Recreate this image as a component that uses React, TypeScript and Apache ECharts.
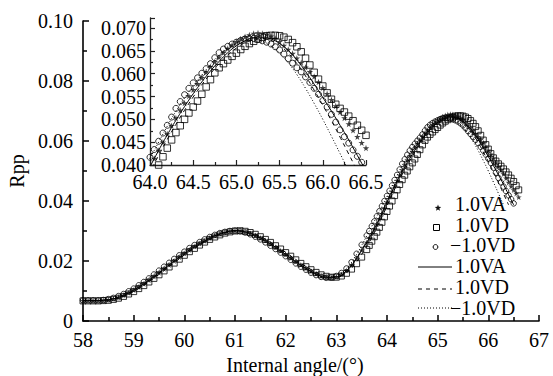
import React, { useEffect, useRef } from "react";
import * as echarts from "echarts";

// ---------- data ----------
const lowAngles = [
  58.0, 58.1, 58.2, 58.3, 58.4, 58.5, 58.6, 58.7, 58.8, 58.9,
  59.0, 59.1, 59.2, 59.3, 59.4, 59.5, 59.6, 59.7, 59.8, 59.9,
  60.0, 60.1, 60.2, 60.3, 60.4, 60.5, 60.6, 60.7, 60.8, 60.9,
  61.0, 61.1, 61.2, 61.3, 61.4, 61.5, 61.6, 61.7, 61.8, 61.9,
  62.0, 62.1, 62.2, 62.3, 62.4, 62.5, 62.6, 62.7, 62.8, 62.9,
  63.0, 63.1, 63.2, 63.3, 63.4, 63.5,
];
const highAngles = [
  63.6, 63.65, 63.7, 63.75, 63.8, 63.85, 63.9, 63.95, 64.0, 64.05,
  64.1, 64.15, 64.2, 64.25, 64.3, 64.35, 64.4, 64.45, 64.5, 64.55,
  64.6, 64.65, 64.7, 64.75, 64.8, 64.85, 64.9, 64.95, 65.0, 65.05,
  65.1, 65.15, 65.2, 65.25, 65.3, 65.35, 65.4, 65.45, 65.5, 65.55,
  65.6, 65.65, 65.7, 65.75, 65.8, 65.85, 65.9, 65.95, 66.0, 66.05,
  66.1, 66.15, 66.2, 66.25, 66.3, 66.35, 66.4, 66.45, 66.5, 66.55,
  66.6,
];
const scatterAngles = [...lowAngles, ...highAngles];

const lineAngles = [
  58.0, 58.2, 58.4, 58.6, 58.8, 59.0, 59.2, 59.4, 59.6, 59.8,
  60.0, 60.2, 60.4, 60.6, 60.8, 61.0, 61.2, 61.4, 61.6, 61.8,
  62.0, 62.2, 62.4, 62.6, 62.8, 63.0, 63.2, 63.4,
  63.5, 63.6, 63.7, 63.8, 63.9, 64.0, 64.1, 64.2, 64.3, 64.4,
  64.5, 64.6, 64.7, 64.8, 64.9, 65.0, 65.1, 65.2, 65.3, 65.4,
  65.5, 65.6, 65.7, 65.8, 65.9, 66.0, 66.1, 66.2, 66.3, 66.4,
  66.5, 66.6,
];

// measured 1.0VA (stars)
const rppVA = [
  0.0068, 0.0068, 0.0068, 0.0068, 0.0069, 0.0071, 0.0074, 0.0079, 0.0086, 0.0094,
  0.0103, 0.0113, 0.0124, 0.0136, 0.0148, 0.0161, 0.0174, 0.0187, 0.0200, 0.0213,
  0.0225, 0.0237, 0.0248, 0.0258, 0.0267, 0.0276, 0.0284, 0.0290, 0.0295, 0.0299,
  0.0301, 0.0300, 0.0297, 0.0292, 0.0285, 0.0277, 0.0268, 0.0257, 0.0246, 0.0234,
  0.0222, 0.0210, 0.0198, 0.0187, 0.0176, 0.0166, 0.0157, 0.0150, 0.0146, 0.0144,
  0.0147, 0.0155, 0.0168, 0.0186, 0.0209, 0.0236,
  0.0262, 0.0276, 0.0291, 0.0307, 0.0323, 0.0340, 0.0358, 0.0377, 0.0396, 0.0414,
  0.0432, 0.0450, 0.0468, 0.0486, 0.0503, 0.0520, 0.0536, 0.0551, 0.0565, 0.0578,
  0.0591, 0.0603, 0.0615, 0.0626, 0.0636, 0.0646, 0.0655, 0.0663, 0.0670, 0.0676,
  0.0681, 0.0685, 0.0688, 0.0689, 0.0688, 0.0686, 0.0682, 0.0677, 0.0670, 0.0662,
  0.0653, 0.0644, 0.0634, 0.0624, 0.0614, 0.0604, 0.0594, 0.0582, 0.0569, 0.0556,
  0.0543, 0.0529, 0.0516, 0.0503, 0.0490, 0.0476, 0.0462, 0.0449, 0.0437, 0.0425,
  0.0413,
];
// measured 1.0VD (squares)
const rppVD = [
  0.0067, 0.0067, 0.0067, 0.0067, 0.0068, 0.0069, 0.0072, 0.0076, 0.0082, 0.0090,
  0.0098, 0.0108, 0.0118, 0.0130, 0.0142, 0.0154, 0.0167, 0.0180, 0.0193, 0.0206,
  0.0219, 0.0231, 0.0242, 0.0253, 0.0263, 0.0272, 0.0280, 0.0287, 0.0293, 0.0297,
  0.0300, 0.0301, 0.0299, 0.0295, 0.0289, 0.0281, 0.0272, 0.0262, 0.0251, 0.0240,
  0.0228, 0.0216, 0.0204, 0.0192, 0.0181, 0.0171, 0.0162, 0.0154, 0.0149, 0.0146,
  0.0146, 0.0150, 0.0159, 0.0173, 0.0191, 0.0213,
  0.0238, 0.0252, 0.0266, 0.0281, 0.0296, 0.0312, 0.0329, 0.0347, 0.0365, 0.0383,
  0.0400, 0.0418, 0.0437, 0.0455, 0.0471, 0.0486, 0.0500, 0.0514, 0.0527, 0.0540,
  0.0555, 0.0571, 0.0587, 0.0602, 0.0613, 0.0622, 0.0630, 0.0638, 0.0645, 0.0653,
  0.0660, 0.0666, 0.0671, 0.0676, 0.0680, 0.0683, 0.0684, 0.0684, 0.0683, 0.0680,
  0.0675, 0.0668, 0.0659, 0.0648, 0.0634, 0.0619, 0.0603, 0.0588, 0.0573, 0.0558,
  0.0544, 0.0533, 0.0524, 0.0516, 0.0507, 0.0497, 0.0487, 0.0476, 0.0465, 0.0451,
  0.0437,
];
// measured −1.0VD (circles)
const rppNegVD = [
  0.0069, 0.0069, 0.0069, 0.0069, 0.0070, 0.0073, 0.0077, 0.0083, 0.0090, 0.0099,
  0.0108, 0.0119, 0.0130, 0.0142, 0.0155, 0.0168, 0.0181, 0.0194, 0.0207, 0.0219,
  0.0231, 0.0243, 0.0253, 0.0263, 0.0272, 0.0280, 0.0287, 0.0293, 0.0297, 0.0300,
  0.0301, 0.0299, 0.0295, 0.0289, 0.0281, 0.0272, 0.0262, 0.0251, 0.0240, 0.0228,
  0.0216, 0.0204, 0.0192, 0.0181, 0.0171, 0.0161, 0.0153, 0.0147, 0.0144, 0.0145,
  0.0150, 0.0160, 0.0175, 0.0196, 0.0224, 0.0254,
  0.0285, 0.0300, 0.0316, 0.0332, 0.0349, 0.0366, 0.0383, 0.0400, 0.0417, 0.0434,
  0.0452, 0.0470, 0.0487, 0.0505, 0.0524, 0.0539, 0.0554, 0.0568, 0.0580, 0.0591,
  0.0601, 0.0611, 0.0622, 0.0635, 0.0646, 0.0654, 0.0660, 0.0665, 0.0669, 0.0673,
  0.0676, 0.0677, 0.0677, 0.0675, 0.0672, 0.0669, 0.0665, 0.0659, 0.0652, 0.0643,
  0.0633, 0.0623, 0.0613, 0.0604, 0.0593, 0.0581, 0.0568, 0.0555, 0.0541, 0.0527,
  0.0511, 0.0494, 0.0477, 0.0462, 0.0448, 0.0433, 0.0419, 0.0406, 0.0392,
];

// calculated curves
const fitVA = [
  0.0068, 0.0068, 0.0069, 0.0074, 0.0086, 0.0103, 0.0124, 0.0148, 0.0174, 0.0200,
  0.0225, 0.0248, 0.0267, 0.0284, 0.0295, 0.0301, 0.0297, 0.0285, 0.0268, 0.0246,
  0.0222, 0.0198, 0.0176, 0.0157, 0.0146, 0.0147, 0.0168, 0.0209,
  0.0236, 0.0262, 0.0291, 0.0323, 0.0358, 0.0396, 0.0432, 0.0466, 0.0498, 0.0528,
  0.0556, 0.0582, 0.0606, 0.0627, 0.0646, 0.0661, 0.0672, 0.0679, 0.0680, 0.0676,
  0.0666, 0.0651, 0.0630, 0.0605, 0.0577, 0.0548, 0.0518, 0.0487, 0.0455, 0.0421,
  0.0387,
];
const fitVD = [
  0.0067, 0.0067, 0.0068, 0.0072, 0.0083, 0.0099, 0.0119, 0.0143, 0.0168, 0.0194,
  0.0220, 0.0243, 0.0264, 0.0281, 0.0294, 0.0300, 0.0299, 0.0289, 0.0273, 0.0252,
  0.0229, 0.0205, 0.0182, 0.0163, 0.0150, 0.0147, 0.0162, 0.0197,
  0.0222, 0.0249, 0.0279, 0.0312, 0.0347, 0.0384, 0.0421, 0.0456, 0.0489, 0.0520,
  0.0549, 0.0576, 0.0600, 0.0622, 0.0641, 0.0656, 0.0668, 0.0675, 0.0677, 0.0673,
  0.0662, 0.0645, 0.0622, 0.0595, 0.0564, 0.0531, 0.0497, 0.0461, 0.0424, 0.0387,
];
const fitNegVD = [
  0.0069, 0.0069, 0.0070, 0.0077, 0.0090, 0.0108, 0.0130, 0.0155, 0.0181, 0.0207,
  0.0231, 0.0253, 0.0272, 0.0287, 0.0297, 0.0301, 0.0295, 0.0281, 0.0262, 0.0240,
  0.0216, 0.0192, 0.0171, 0.0153, 0.0144, 0.0150, 0.0175, 0.0222,
  0.0252, 0.0284, 0.0316, 0.0349, 0.0382, 0.0415, 0.0450, 0.0485, 0.0518, 0.0547,
  0.0573, 0.0597, 0.0620, 0.0640, 0.0656, 0.0667, 0.0674, 0.0676, 0.0671, 0.0661,
  0.0645, 0.0624, 0.0598, 0.0568, 0.0535, 0.0500, 0.0463, 0.0425, 0.0387,
];

const seriesNames = ["1.0VA", "1.0VD", "\u22121.0VD"];

const FONT = "Liberation Serif";
const STAR = "path://M50,0 L61,35 L98,35 L68,57 L79,91 L50,70 L21,91 L32,57 L2,35 L39,35 Z";

const pair = (xs: number[], ys: number[]) => ys.map((v, i) => [xs[i], v]);

function buildSeries(axis: number, markSize: number) {
  const common = { xAxisIndex: axis, yAxisIndex: axis, clip: true, silent: true };
  const hollow = { color: "rgba(0,0,0,0)", borderColor: "#000", borderWidth: 1 };
  return [
    {
      ...common, type: "scatter", name: seriesNames[0], symbol: STAR, symbolSize: markSize,
      itemStyle: { color: "#111" }, data: pair(scatterAngles, rppVA),
    },
    {
      ...common, type: "scatter", name: seriesNames[1], symbol: "rect", symbolSize: markSize,
      itemStyle: hollow, data: pair(scatterAngles, rppVD),
    },
    {
      ...common, type: "scatter", name: seriesNames[2], symbol: "circle", symbolSize: markSize - 0.5,
      itemStyle: hollow, data: pair(scatterAngles, rppNegVD),
    },
    {
      ...common, type: "line", name: "fit " + seriesNames[0], symbol: "none", smooth: true,
      lineStyle: { color: "#000", width: 1, type: "solid" },
      data: pair(lineAngles, fitVA),
    },
    {
      ...common, type: "line", name: "fit " + seriesNames[1], symbol: "none", smooth: true,
      lineStyle: { color: "#000", width: 1, type: [4, 4] },
      data: pair(lineAngles, fitVD),
    },
    {
      ...common, type: "line", name: "fit " + seriesNames[2], symbol: "none", smooth: true,
      lineStyle: { color: "#000", width: 1, type: [1, 2] },
      data: pair(lineAngles, fitNegVD),
    },
  ];
}

function starPoints(cx: number, cy: number, r: number) {
  const pts: number[][] = [];
  for (let k = 0; k < 10; k++) {
    const a = -Math.PI / 2 + (k * Math.PI) / 5;
    const rr = k % 2 === 0 ? r : r * 0.42;
    pts.push([cx + rr * Math.cos(a), cy + rr * Math.sin(a)]);
  }
  return pts;
}

function legendGraphic() {
  const font = `20px "${FONT}"`;
  const txt = (t: string, x: number, y: number) => ({
    type: "text", x, y, silent: true,
    style: { text: t, font, fill: "#000", verticalAlign: "middle", align: "left" },
  });
  const ln = (y: number, dash: any) => ({
    type: "line", silent: true,
    shape: { x1: 418, y1: y, x2: 452, y2: y },
    style: { stroke: "#000", lineWidth: 1, lineDash: dash },
  });
  return [
    { type: "polygon", silent: true, shape: { points: starPoints(438, 208, 3.4) }, style: { fill: "#111" } },
    txt(seriesNames[0], 455, 204),
    { type: "rect", silent: true, shape: { x: 433.5, y: 224.5, width: 6, height: 6 }, style: { fill: "none", stroke: "#000", lineWidth: 1 } },
    txt(seriesNames[1], 455, 224.7),
    { type: "circle", silent: true, shape: { cx: 435.5, cy: 247, r: 2.4 }, style: { fill: "none", stroke: "#000", lineWidth: 1 } },
    txt(seriesNames[2], 450, 245.4),
    ln(267, null),
    txt(seriesNames[0], 455, 266.1),
    ln(289, [4, 4]),
    txt(seriesNames[1], 455, 286.8),
    ln(308, [1, 2]),
    txt(seriesNames[2], 450, 307.5),
  ];
}

export default function App() {
  const ref = useRef<HTMLDivElement>(null);
  useEffect(() => {
    if (!ref.current) return;
    const chart = echarts.init(ref.current, null, { renderer: "svg" });
    const labelStyle = { fontFamily: FONT, fontSize: 20, color: "#000" };
    const mainLine = { show: true, lineStyle: { color: "#000", width: 1.6 } };
    const insetLine = { show: true, lineStyle: { color: "#222", width: 1.3 } };
    chart.setOption({
      animation: false,
      backgroundColor: "#fff",
      textStyle: { fontFamily: FONT },
      grid: [
        { left: 83, right: 14, top: 21, bottom: 55, outerBoundsMode: "none", containLabel: false },
        { left: 150, width: 216, top: 18, height: 147, outerBoundsMode: "none", containLabel: false },
      ],
      xAxis: [
        {
          type: "value", gridIndex: 0, min: 58, max: 67, interval: 1,
          axisLine: mainLine,
          axisTick: { show: true, inside: true, length: 6, lineStyle: { width: 1.5, color: "#000" } },
          minorTick: { show: true, splitNumber: 2, length: 4, lineStyle: { width: 1.5, color: "#000" } },
          splitLine: { show: false },
          axisLabel: { ...labelStyle, margin: 9 },
          name: "Internal angle/(\u00b0)", nameLocation: "middle", nameGap: 32,
          nameTextStyle: { ...labelStyle, padding: [0, 32, 0, 0] },
        },
        {
          type: "value", gridIndex: 1, min: 64, max: 66.5, interval: 0.5,
          axisLine: insetLine,
          axisTick: { show: true, inside: true, length: 5, lineStyle: { width: 1.2, color: "#222" } },
          minorTick: { show: true, splitNumber: 2, length: 3, lineStyle: { width: 1.2, color: "#222" } },
          splitLine: { show: false },
          axisLabel: { ...labelStyle, margin: 7, formatter: (v: number) => v.toFixed(1) },
        },
      ],
      yAxis: [
        {
          type: "value", gridIndex: 0, min: 0, max: 0.1, interval: 0.02,
          axisLine: mainLine,
          axisTick: { show: true, inside: true, length: 6, lineStyle: { width: 1.5, color: "#000" } },
          minorTick: { show: true, splitNumber: 2, length: 4, lineStyle: { width: 1.5, color: "#000" } },
          splitLine: { show: false },
          axisLabel: { ...labelStyle, margin: 10, formatter: (v: number) => (v === 0 ? "0" : v.toFixed(2)) },
          name: "Rpp", nameLocation: "middle", nameGap: 52,
          nameTextStyle: { ...labelStyle },
        },
        {
          type: "value", gridIndex: 1, min: 0.04, max: 0.0722, interval: 0.005,
          axisLine: insetLine,
          axisTick: { show: true, inside: true, length: 5, lineStyle: { width: 1.2, color: "#222" } },
          minorTick: { show: true, splitNumber: 2, length: 3, lineStyle: { width: 1.2, color: "#222" } },
          splitLine: { show: false },
          axisLabel: { ...labelStyle, margin: 4, showMaxLabel: false, formatter: (v: number) => v.toFixed(3) },
        },
      ],
      graphic: legendGraphic(),
      series: [...buildSeries(0, 6), ...buildSeries(1, 6.5)],
    });
    return () => chart.dispose();
  }, []);
  return (
    <div
      ref={ref}
      style={{ position: "fixed", left: 0, top: 0, width: 553, height: 376, background: "#fff" }}
    />
  );
}
